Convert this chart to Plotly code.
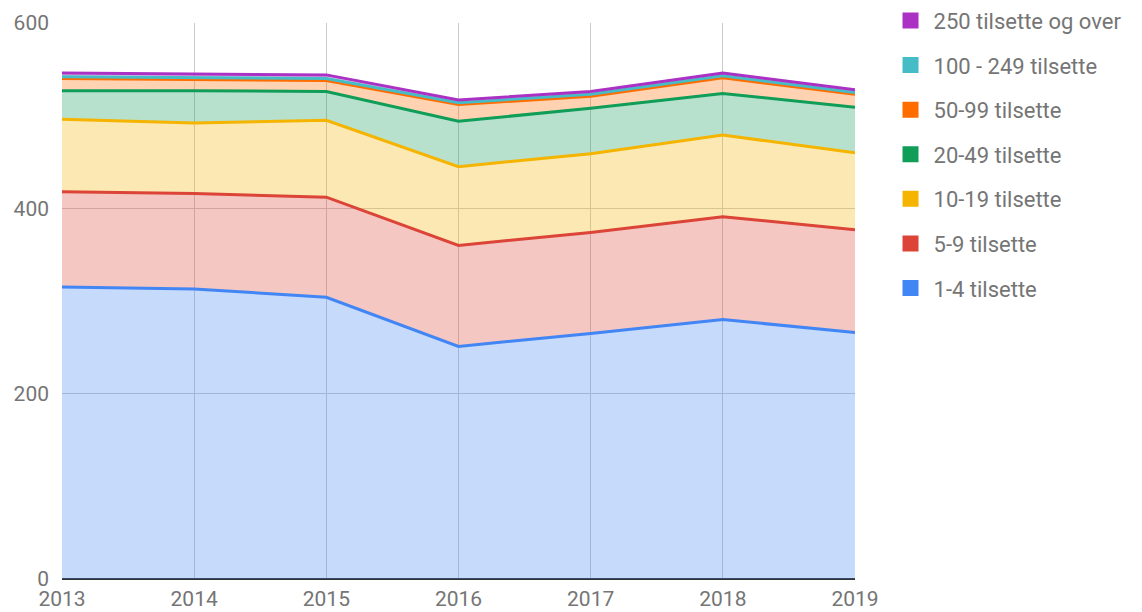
import plotly.graph_objects as go

years = [2013, 2014, 2015, 2016, 2017, 2018, 2019]
series_names = ["1-4 tilsette", "5-9 tilsette", "10-19 tilsette", "20-49 tilsette",
                "50-99 tilsette", "100 - 249 tilsette", "250 tilsette og over"]
v_1_4 = [315, 313, 304, 251, 265, 280, 266]
v_5_9 = [103, 103, 108, 109, 109, 111, 111]
v_10_19 = [78, 76, 83, 85, 85, 88, 83]
v_20_49 = [31, 35, 31, 49, 49, 45, 49]
v_50_99 = [13, 12, 12, 18, 13, 17, 14]
v_100_249 = [2, 2, 2, 2, 2, 2, 2]
v_250 = [4, 4, 4, 3, 3, 3, 3]
values = [v_1_4, v_5_9, v_10_19, v_20_49, v_50_99, v_100_249, v_250]
colors = ["#4285F4", "#DB4437", "#F4B400", "#0F9D58", "#FF6D01", "#46BDC6", "#AB30C4"]
y_ticks = [0, 200, 400, 600]


def rgba(hx, a):
    h = hx.lstrip("#")
    r, g, b = int(h[0:2], 16), int(h[2:4], 16), int(h[4:6], 16)
    return f"rgba({r},{g},{b},{a})"


fig = go.Figure()
for name, vals, col in zip(series_names, values, colors):
    fig.add_trace(go.Scatter(
        x=years, y=vals, name=name, stackgroup="one", mode="lines",
        line=dict(color=col, width=3), fillcolor=rgba(col, 0.3),
        showlegend=False, hoverinfo="x+y+name",
    ))

# legend entries (solid squares), top-most series listed first
for i, (name, col) in enumerate(reversed(list(zip(series_names, colors)))):
    fig.add_trace(go.Scatter(
        x=[None], y=[None], name=name, mode="markers",
        marker=dict(symbol="square", size=22, color=col),
        legendgroup=f"g{i}", showlegend=True,
    ))

FONT = "Roboto, sans-serif"
GREY = "#757575"

fig.update_layout(
    width=1134, height=604,
    margin=dict(l=54, r=287, t=15, b=33, autoexpand=False),
    paper_bgcolor="white", plot_bgcolor="white",
    font=dict(family=FONT, size=22, color=GREY),
    legend=dict(
        x=1.041, xanchor="left", y=1.042, yanchor="top",
        traceorder="grouped", tracegroupgap=13, itemwidth=36,
        font=dict(family=FONT, size=22, color=GREY),
        maxheight=600,
    ),
    xaxis=dict(
        range=[2013, 2019], tickvals=years, ticktext=[str(y) for y in years],
        showgrid=True, gridcolor="#cccccc", gridwidth=1,
        zeroline=False, showline=False, ticks="", automargin=False,
        tickfont=dict(family=FONT, size=21, color=GREY),
        ticklabelstandoff=5,
    ),
    yaxis=dict(
        range=[0, 600], tickvals=y_ticks, ticktext=[str(t) for t in y_ticks],
        showgrid=True, gridcolor="#cccccc", gridwidth=1,
        zeroline=True, zerolinecolor="#333333", zerolinewidth=2,
        showline=False, ticks="", automargin=False,
        tickfont=dict(family=FONT, size=21, color=GREY),
        ticklabelstandoff=12,
    ),
)

fig.write_html("out.html")
